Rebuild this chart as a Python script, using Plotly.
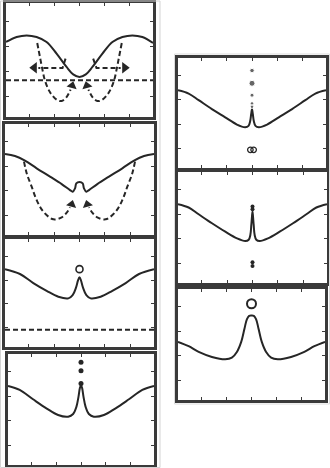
import plotly.graph_objects as go

W, H = 330, 468

# ---------------- data (x in [-1,1], y in [0,1]) -------------
p1_solid_x = [-1.0, -0.855, -0.719, -0.584, -0.448, -0.312, -0.176, -0.086, 0.0, 0.086, 0.176, 0.312, 0.448, 0.584, 0.719, 0.855, 1.0]
p1_solid_y = [0.658, 0.702, 0.716, 0.702, 0.658, 0.556, 0.439, 0.374, 0.351, 0.374, 0.439, 0.556, 0.658, 0.702, 0.716, 0.702, 0.650]
p1_flat_y = 0.322
p1_uleft_x = [-0.575, -0.538, -0.502, -0.471, -0.403, -0.312, -0.244, -0.176, -0.122]
p1_uleft_y = [0.649, 0.526, 0.409, 0.322, 0.219, 0.152, 0.140, 0.175, 0.240]
p1_uright_x = [0.575, 0.538, 0.502, 0.471, 0.403, 0.312, 0.244, 0.176, 0.122]
p1_uright_y = [0.649, 0.526, 0.409, 0.322, 0.219, 0.152, 0.140, 0.175, 0.240]
p1_hleft_x = [-0.190, -0.231, -0.560]
p1_hleft_y = [0.512, 0.430, 0.430]
p1_hright_x = [0.186, 0.231, 0.560]
p1_hright_y = [0.512, 0.430, 0.430]
p1_arrow_x = [-0.100, 0.100]
p1_arrow_y = [0.275, 0.275]
p1_harrow_x = [-0.615, 0.615]
p1_harrow_y = [0.432, 0.432]

p2_solid_x = [-1.0, -0.866, -0.732, -0.575, -0.396, -0.239, -0.128, -0.092, -0.060, -0.043, 0.0, 0.043, 0.060, 0.092, 0.128, 0.239, 0.396, 0.575, 0.732, 0.866, 1.0]
p2_solid_y = [0.730, 0.712, 0.670, 0.601, 0.526, 0.459, 0.405, 0.390, 0.420, 0.465, 0.477, 0.465, 0.420, 0.390, 0.405, 0.459, 0.526, 0.601, 0.670, 0.712, 0.730]
p2_uleft_x = [-0.745, -0.709, -0.642, -0.575, -0.485, -0.351, -0.239, -0.172, -0.128]
p2_uleft_y = [0.661, 0.556, 0.435, 0.315, 0.210, 0.141, 0.159, 0.201, 0.249]
p2_uright_x = [0.745, 0.709, 0.642, 0.575, 0.485, 0.351, 0.239, 0.172, 0.128]
p2_uright_y = [0.661, 0.556, 0.435, 0.315, 0.210, 0.141, 0.159, 0.201, 0.249]
p2_arrow_x = [-0.105, 0.105]
p2_arrow_y = [0.276, 0.276]

p3_solid_x = [-1.0, -0.799, -0.620, -0.441, -0.284, -0.150, -0.092, -0.047, -0.020, 0.0, 0.020, 0.047, 0.092, 0.150, 0.284, 0.441, 0.620, 0.799, 1.0]
p3_solid_y = [0.721, 0.676, 0.592, 0.520, 0.465, 0.450, 0.480, 0.550, 0.616, 0.646, 0.616, 0.550, 0.480, 0.450, 0.465, 0.520, 0.592, 0.676, 0.721]
p3_ring_y = [0.721]
p3_flat_y = 0.159

p4_solid_x = [-1.0, -0.840, -0.657, -0.474, -0.314, -0.176, -0.108, -0.062, -0.034, -0.016, 0.0, 0.016, 0.034, 0.062, 0.108, 0.176, 0.314, 0.474, 0.657, 0.840, 1.0]
p4_solid_y = [0.712, 0.676, 0.592, 0.511, 0.450, 0.435, 0.459, 0.526, 0.616, 0.691, 0.721, 0.691, 0.616, 0.526, 0.459, 0.435, 0.450, 0.511, 0.592, 0.676, 0.712]
p4_dots_y = [0.925, 0.850, 0.735]

p5_solid_x = [-1.0, -0.856, -0.721, -0.542, -0.362, -0.204, -0.092, -0.047, -0.025, -0.011, 0.0, 0.011, 0.025, 0.047, 0.092, 0.204, 0.362, 0.542, 0.721, 0.856, 1.0]
p5_solid_y = [0.707, 0.677, 0.617, 0.536, 0.461, 0.395, 0.371, 0.383, 0.425, 0.491, 0.536, 0.491, 0.425, 0.383, 0.371, 0.395, 0.461, 0.536, 0.617, 0.677, 0.707]
p5_dots_y = [0.886, 0.770, 0.662, 0.587, 0.557]
p5_dots_size = [4.5, 6, 4, 3.5, 3.5]
p5_loop_x = [-0.022, 0.022]
p5_loop_y = [0.165, 0.165]

p6_solid_x = [-1.0, -0.857, -0.723, -0.544, -0.365, -0.208, -0.096, -0.051, -0.029, -0.016, -0.007, 0.0, 0.007, 0.016, 0.029, 0.051, 0.096, 0.208, 0.365, 0.544, 0.723, 0.857, 1.0]
p6_solid_y = [0.710, 0.680, 0.619, 0.538, 0.462, 0.402, 0.378, 0.390, 0.432, 0.523, 0.598, 0.644, 0.598, 0.523, 0.432, 0.390, 0.378, 0.402, 0.462, 0.538, 0.619, 0.680, 0.710]
p6_dots_y = [0.689, 0.665, 0.187, 0.154]

p7_solid_x = [-1.0, -0.855, -0.719, -0.538, -0.357, -0.267, -0.199, -0.140, -0.095, -0.063, -0.032, 0.0, 0.032, 0.063, 0.095, 0.140, 0.199, 0.267, 0.357, 0.538, 0.719, 0.855, 1.0]
p7_solid_y = [0.524, 0.485, 0.433, 0.388, 0.367, 0.382, 0.433, 0.524, 0.645, 0.727, 0.758, 0.761, 0.758, 0.727, 0.645, 0.524, 0.433, 0.382, 0.367, 0.388, 0.433, 0.485, 0.524]
p7_ring_y = [0.867]

x_ticks = [-0.68, -0.34, 0.0, 0.34, 0.68]
y_ticks = [0.18, 0.40, 0.62, 0.84]

# ---------------- layout / styles -----------------
INK = "#262626"
FRAME = "#3a3a3a"
DASH = "5px,3px"

# panel boxes in pixels: left, right, top, bottom
boxes = [
    (6, 153, 3, 117),
    (5, 154, 124, 235),
    (5, 154, 239, 347),
    (8, 154, 354, 465),
    (178, 326, 58, 168),
    (178, 327, 172, 283),
    (178, 325, 289, 400),
]

fig = go.Figure()


def ax(i):
    return ("x" if i == 1 else f"x{i}"), ("y" if i == 1 else f"y{i}")


def line(i, xs, ys, dash=None, width=2.0, shape="spline"):
    xa, ya = ax(i)
    fig.add_trace(go.Scatter(
        x=xs, y=ys, xaxis=xa, yaxis=ya, mode="lines",
        line=dict(color=INK, width=width, dash=dash, shape=shape, smoothing=1.0),
        showlegend=False, hoverinfo="skip"))


def marks(i, xs, ys, symbol, size, angle=0, lw=1.5):
    xa, ya = ax(i)
    fig.add_trace(go.Scatter(
        x=xs, y=ys, xaxis=xa, yaxis=ya, mode="markers",
        marker=dict(symbol=symbol, size=size, color=INK, angle=angle,
                    line=dict(color=INK, width=lw)),
        showlegend=False, hoverinfo="skip"))


# panel 1
line(1, p1_solid_x, p1_solid_y)
line(1, [-1, 1], [p1_flat_y, p1_flat_y], dash=DASH, shape="linear")
line(1, p1_uleft_x, p1_uleft_y, dash=DASH)
line(1, p1_uright_x, p1_uright_y, dash=DASH)
line(1, p1_hleft_x, p1_hleft_y, dash=DASH, shape="linear")
line(1, p1_hright_x, p1_hright_y, dash=DASH, shape="linear")
marks(1, p1_arrow_x[:1], p1_arrow_y[:1], "triangle-up", 9, angle=15, lw=0)
marks(1, p1_arrow_x[1:], p1_arrow_y[1:], "triangle-up", 9, angle=-15, lw=0)
marks(1, p1_harrow_x[:1], p1_harrow_y[:1], "triangle-left", 10, lw=0)
marks(1, p1_harrow_x[1:], p1_harrow_y[1:], "triangle-right", 10, lw=0)

# panel 2
line(2, p2_solid_x, p2_solid_y)
line(2, p2_uleft_x, p2_uleft_y, dash=DASH)
line(2, p2_uright_x, p2_uright_y, dash=DASH)
marks(2, p2_arrow_x[:1], p2_arrow_y[:1], "triangle-up", 9, angle=15, lw=0)
marks(2, p2_arrow_x[1:], p2_arrow_y[1:], "triangle-up", 9, angle=-15, lw=0)

# panel 3
line(3, p3_solid_x, p3_solid_y)
marks(3, [0.0], p3_ring_y, "circle-open", 7, lw=1.6)
line(3, [-1, 1], [p3_flat_y, p3_flat_y], dash=DASH, shape="linear")

# panel 4
line(4, p4_solid_x, p4_solid_y)
marks(4, [0.0] * len(p4_dots_y), p4_dots_y, "circle", 5, lw=0)

# panel 5
line(5, p5_solid_x, p5_solid_y)
xa, ya = ax(5)
fig.add_trace(go.Scatter(x=[0.0] * len(p5_dots_y), y=p5_dots_y, xaxis=xa, yaxis=ya,
                         mode="markers", marker=dict(size=p5_dots_size, color=INK),
                         showlegend=False, hoverinfo="skip"))
marks(5, p5_loop_x, p5_loop_y, "circle-open", 5.5, lw=1.3)

# panel 6
line(6, p6_solid_x, p6_solid_y)
marks(6, [0.0] * len(p6_dots_y), p6_dots_y, "circle", 4, lw=0)

# panel 7
line(7, p7_solid_x, p7_solid_y)
marks(7, [0.0], p7_ring_y, "circle-open", 9, lw=2)

layout = dict(
    width=W, height=H, margin=dict(l=0, r=0, t=0, b=0),
    paper_bgcolor="white", plot_bgcolor="white", showlegend=False,
)
for i, (l, r, t, b) in enumerate(boxes, start=1):
    xk = "xaxis" if i == 1 else f"xaxis{i}"
    yk = "yaxis" if i == 1 else f"yaxis{i}"
    ya_name = "y" if i == 1 else f"y{i}"
    xa_name = "x" if i == 1 else f"x{i}"
    common = dict(showline=True, linecolor=FRAME, linewidth=2.5, mirror="ticks",
                  ticks="inside", ticklen=3, tickwidth=1, tickcolor=FRAME,
                  showticklabels=False, showgrid=False, zeroline=False, fixedrange=True)
    layout[xk] = dict(domain=[l / W, r / W], range=[-1, 1], anchor=ya_name,
                      tickvals=x_ticks, **common)
    layout[yk] = dict(domain=[1 - b / H, 1 - t / H], range=[0, 1], anchor=xa_name,
                      tickvals=y_ticks, **common)

layout["shapes"] = [
    dict(type="rect", xref="paper", yref="paper", x0=0.5 / W, x1=160 / W,
         y0=0.5 / H, y1=1 - 1.0 / H, line=dict(color="#d4d4d4", width=1)),
    dict(type="rect", xref="paper", yref="paper", x0=174.5 / W, x1=329.5 / W,
         y0=1 - 404 / H, y1=1 - 54 / H, line=dict(color="#dcdcdc", width=1)),
]
fig.update_layout(**layout)

fig.write_html("out.html", config={"displayModeBar": False},
               post_script="document.body.style.margin='0';")
